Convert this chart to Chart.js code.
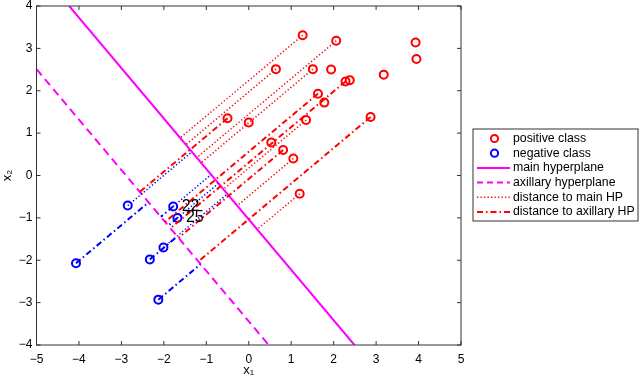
<!DOCTYPE html>
<html lang="en">
<head>
<meta charset="UTF-8">
<title>Main and axillary hyperplane</title>
<script src="https://cdn.jsdelivr.net/npm/chart.js"></script>
<style>
  html, body { margin: 0; padding: 0; background: #fff; }
</style>
</head>
<body>
<canvas id="hpChart" width="640" height="380"></canvas>
<script>
// positive class (red circles)
const posX = [1.27, 2.06, 3.93, 3.95, 0.64, 1.51, 1.94, 3.18, 2.28, 2.38, 1.63, 1.78, -0.50, 0.00, 1.35, 2.87, 0.53, 0.81, 1.05, 1.20];
const posY = [3.31, 3.18, 3.14, 2.75, 2.51, 2.51, 2.50, 2.38, 2.22, 2.25, 1.93, 1.72, 1.35, 1.25, 1.31, 1.38, 0.78, 0.60, 0.40, -0.43];
// negative class (blue circles)
const negX = [-2.85, -1.78, -1.68, -2.01, -2.33, -4.07, -2.13];
const negY = [-0.71, -0.73, -1.00, -1.70, -1.98, -2.07, -2.93];
const negNames = ['', '22', '25', '', '', '', ''];

// hyperplane end points
const mainHP = [[-4.23, 4], [2.49, -4]];
const auxHP = [[-5, 2.51], [0.47, -4]];

// points that get a distance line (indices into the arrays above)
const posToMain = [0, 1, 4, 5, 14, 18, 19];
const posToAux = [8, 10, 12, 15, 17];
const negToMain = [0, 1, 2, 3];
const negToAux = [1, 2, 4, 5, 6];

const xTicks = [-5, -4, -3, -2, -1, 0, 1, 2, 3, 4, 5];
const yTicks = [-4, -3, -2, -1, 0, 1, 2, 3, 4];

const RED = '#ff0000', BLUE = '#0000ff', MAG = '#ff00ff';
const DOT = [1.3, 2.2], DASHDOT = [6, 3, 1.5, 3], DASH = [8, 5];
const FONT = '"Liberation Sans", Arial, Helvetica, sans-serif';

// foot of the perpendicular from (px,py) on the line through a and b
function foot(px, py, line) {
    const [a, b] = line;
    const dx = b[0] - a[0], dy = b[1] - a[1];
    const t = ((px - a[0]) * dx + (py - a[1]) * dy) / (dx * dx + dy * dy);
    return { x: a[0] + t * dx, y: a[1] + t * dy };
}

function segment(px, py, line, color, dash) {
    return {
        data: [{ x: px, y: py }, foot(px, py, line)],
        showLine: true, borderColor: color, borderWidth: dash === DOT ? 1.5 : 2,
        borderDash: dash, pointRadius: 0, fill: false
    };
}

const datasets = [];
posToMain.forEach(i => datasets.push(segment(posX[i], posY[i], mainHP, RED, DOT)));
negToMain.forEach(i => datasets.push(segment(negX[i], negY[i], mainHP, BLUE, DOT)));
posToAux.forEach(i => datasets.push(segment(posX[i], posY[i], auxHP, RED, DASHDOT)));
negToAux.forEach(i => datasets.push(segment(negX[i], negY[i], auxHP, BLUE, DASHDOT)));

datasets.push({
    data: mainHP.map(p => ({ x: p[0], y: p[1] })),
    showLine: true, borderColor: MAG, borderWidth: 2, pointRadius: 0
});
datasets.push({
    data: auxHP.map(p => ({ x: p[0], y: p[1] })),
    showLine: true, borderColor: MAG, borderWidth: 2, borderDash: DASH, pointRadius: 0
});
datasets.push({
    data: posX.map((x, i) => ({ x: x, y: posY[i] })),
    borderColor: RED, backgroundColor: 'rgba(0,0,0,0)', pointRadius: 4, pointBorderWidth: 2
});
datasets.push({
    data: negX.map((x, i) => ({ x: x, y: negY[i] })),
    borderColor: BLUE, backgroundColor: 'rgba(0,0,0,0)', pointRadius: 4, pointBorderWidth: 2
});

const legendItems = [
    { text: 'positive class', color: RED, marker: true },
    { text: 'negative class', color: BLUE, marker: true },
    { text: 'main hyperplane', color: MAG, dash: [] },
    { text: 'axillary hyperplane', color: MAG, dash: [6, 4] },
    { text: 'distance to main HP', color: RED, dash: DOT, width: 1.5 },
    { text: 'distance to axillary HP', color: RED, dash: DASHDOT }
];

const minus = v => (v < 0 ? '\u2212' + Math.abs(v) : String(v));

// axes box, inward ticks, point labels and the boxed legend
const framePlugin = {
    id: 'frame',
    afterDraw(chart) {
        const { ctx, chartArea: a, scales } = chart;
        ctx.save();
        ctx.strokeStyle = '#333';
        ctx.lineWidth = 1;
        ctx.setLineDash([]);
        ctx.strokeRect(a.left, a.top, a.right - a.left, a.bottom - a.top);
        ctx.beginPath();
        xTicks.forEach(v => {
            const px = scales.x.getPixelForValue(v);
            ctx.moveTo(px, a.bottom); ctx.lineTo(px, a.bottom - 4);
            ctx.moveTo(px, a.top); ctx.lineTo(px, a.top + 4);
        });
        yTicks.forEach(v => {
            const py = scales.y.getPixelForValue(v);
            ctx.moveTo(a.left, py); ctx.lineTo(a.left + 4, py);
            ctx.moveTo(a.right, py); ctx.lineTo(a.right - 4, py);
        });
        ctx.stroke();

        // labels next to two negative points
        ctx.fillStyle = '#000';
        ctx.font = '16px ' + FONT;
        ctx.textBaseline = 'middle';
        negNames.forEach((name, i) => {
            if (!name) return;
            ctx.fillText(name, scales.x.getPixelForValue(negX[i] + 0.2), scales.y.getPixelForValue(negY[i]));
        });

        // legend
        const lx = 473, ly = 129, lw = 165, lh = 92;
        ctx.fillStyle = '#fff';
        ctx.fillRect(lx, ly, lw, lh);
        ctx.strokeStyle = '#333';
        ctx.lineWidth = 1;
        ctx.strokeRect(lx, ly, lw, lh);
        ctx.font = '12.3px ' + FONT;
        legendItems.forEach((it, i) => {
            const y = ly + 9.5 + i * 14.7;
            ctx.strokeStyle = it.color;
            if (it.marker) {
                ctx.lineWidth = 2;
                ctx.setLineDash([]);
                ctx.beginPath();
                ctx.arc(494.5, y, 3.6, 0, Math.PI * 2);
                ctx.stroke();
            } else {
                ctx.lineWidth = it.width || 2;
                ctx.setLineDash(it.dash);
                ctx.beginPath();
                ctx.moveTo(477, y); ctx.lineTo(510, y);
                ctx.stroke();
            }
            ctx.setLineDash([]);
            ctx.fillStyle = '#000';
            ctx.fillText(it.text, 513, y);
        });
        ctx.restore();
    }
};

const ctx = document.getElementById('hpChart').getContext('2d');
new Chart(ctx, {
    type: 'scatter',
    data: { datasets: datasets },
    options: {
        responsive: false,
        animation: false,
        devicePixelRatio: 1,
        layout: { padding: { top: 5, right: 179, left: 0, bottom: 0 } },
        plugins: { legend: { display: false }, tooltip: { enabled: false } },
        scales: {
            x: {
                type: 'linear', min: -5, max: 5,
                afterBuildTicks: s => { s.ticks = xTicks.map(v => ({ value: v })); },
                afterFit: s => { s.height = 35; s.paddingLeft = 0; s.paddingRight = 0; },
                grid: { display: false, drawTicks: false },
                border: { display: false },
                ticks: { color: '#000', padding: 7, maxRotation: 0, font: { family: FONT, size: 12 }, callback: minus },
                title: { display: true, text: 'x\u2081', color: '#000', padding: { top: 0, bottom: 2 }, font: { family: FONT, size: 13 } }
            },
            y: {
                type: 'linear', min: -4, max: 4,
                afterBuildTicks: s => { s.ticks = yTicks.map(v => ({ value: v })); },
                afterFit: s => { s.width = 36.5; s.paddingTop = 0; s.paddingBottom = 0; },
                grid: { display: false, drawTicks: false },
                border: { display: false },
                ticks: { color: '#000', padding: 4, font: { family: FONT, size: 12 }, callback: minus },
                title: { display: true, text: 'x\u2082', color: '#000', padding: { top: 0, bottom: 0 }, font: { family: FONT, size: 13 } }
            }
        }
    },
    plugins: [framePlugin]
});
</script>
</body>
</html>
